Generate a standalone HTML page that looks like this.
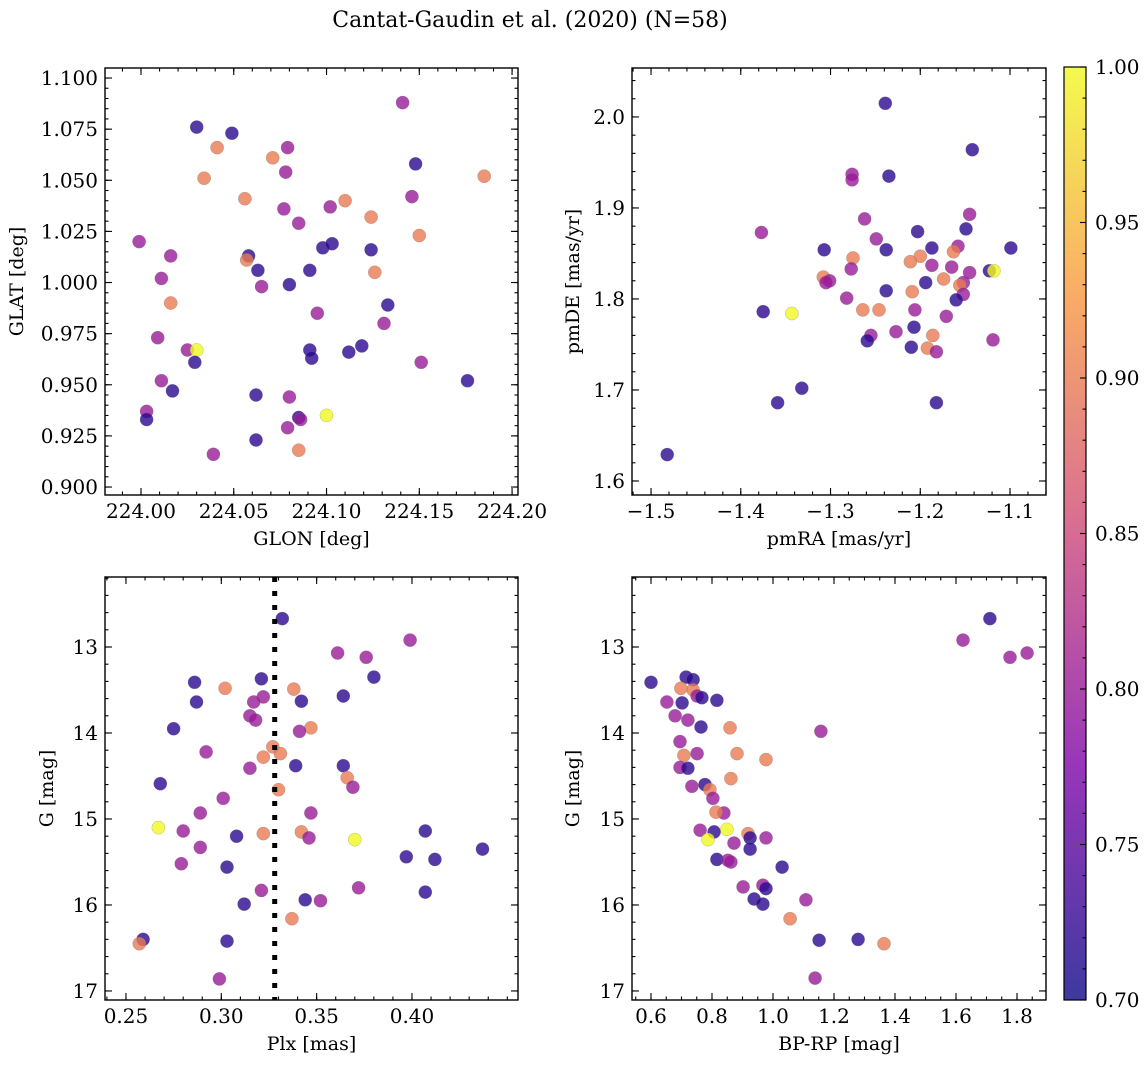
<!DOCTYPE html>
<html><head><meta charset="utf-8"><style>
body{margin:0;background:#fff;}
svg{display:block;font-family:"DejaVu Serif","Liberation Serif",serif;}
</style></head><body>
<svg id="fig" width="1148" height="1067" viewBox="0 0 1148 1067">
<text x="530" y="27" font-size="22" text-anchor="middle">Cantat-Gaudin et al. (2020) (N=58)</text>
</svg>
<script>
// ---- Panel 1: GLON vs GLAT ----
const p1_glon=[224.030,224.049,224.041,224.071,224.079,224.141,224.185,224.034,224.078,224.148,224.056,224.077,224.110,224.102,224.146,224.085,224.124,223.999,224.016,224.058,224.098,224.103,224.124,224.150,224.057,224.063,224.011,224.126,224.016,224.065,224.080,224.091,224.133,224.095,224.009,224.131,224.119,224.112,224.025,224.030,224.029,224.091,224.092,224.151,224.011,224.017,224.176,224.062,224.080,224.003,224.003,224.085,224.086,224.100,224.079,224.062,224.085,224.039];
const p1_glat=[1.076,1.073,1.066,1.061,1.066,1.088,1.052,1.051,1.054,1.058,1.041,1.036,1.040,1.037,1.042,1.029,1.032,1.020,1.013,1.013,1.017,1.019,1.016,1.023,1.011,1.006,1.002,1.005,0.990,0.998,0.999,1.006,0.989,0.985,0.973,0.980,0.969,0.966,0.967,0.967,0.961,0.967,0.963,0.961,0.952,0.947,0.952,0.945,0.944,0.937,0.933,0.934,0.933,0.935,0.929,0.923,0.918,0.916];
const p1_prob=[0.72,0.72,0.9,0.9,0.8,0.8,0.9,0.9,0.8,0.72,0.9,0.8,0.9,0.8,0.8,0.8,0.9,0.8,0.8,0.72,0.72,0.72,0.72,0.9,0.9,0.72,0.8,0.9,0.9,0.8,0.72,0.72,0.72,0.8,0.8,0.8,0.72,0.72,0.8,1.0,0.72,0.72,0.72,0.8,0.8,0.72,0.72,0.72,0.8,0.8,0.72,0.72,0.8,1.0,0.8,0.72,0.9,0.8];
// ---- Panel 2: pmRA vs pmDE ----
const p2_pmra=[-1.239,-1.142,-1.276,-1.276,-1.235,-1.145,-1.262,-1.377,-1.203,-1.249,-1.149,-1.307,-1.238,-1.187,-1.158,-1.099,-1.200,-1.275,-1.211,-1.163,-1.187,-1.277,-1.165,-1.145,-1.123,-1.118,-1.308,-1.301,-1.305,-1.174,-1.194,-1.152,-1.156,-1.238,-1.282,-1.152,-1.209,-1.160,-1.246,-1.264,-1.206,-1.171,-1.375,-1.343,-1.207,-1.186,-1.227,-1.255,-1.119,-1.259,-1.210,-1.192,-1.182,-1.332,-1.359,-1.182,-1.482];
const p2_pmde=[2.015,1.964,1.937,1.931,1.935,1.893,1.888,1.873,1.874,1.866,1.877,1.854,1.854,1.856,1.858,1.856,1.847,1.845,1.841,1.852,1.837,1.833,1.835,1.829,1.831,1.831,1.824,1.820,1.818,1.822,1.818,1.818,1.815,1.809,1.801,1.805,1.808,1.799,1.788,1.788,1.788,1.781,1.786,1.784,1.769,1.760,1.764,1.760,1.755,1.754,1.747,1.746,1.742,1.702,1.686,1.686,1.629];
const p2_prob=[0.72,0.72,0.8,0.8,0.72,0.8,0.8,0.8,0.72,0.8,0.72,0.72,0.72,0.72,0.8,0.72,0.9,0.9,0.9,0.9,0.8,0.8,0.8,0.8,0.72,1.0,0.9,0.8,0.8,0.9,0.72,0.8,0.9,0.72,0.8,0.8,0.9,0.72,0.9,0.9,0.8,0.8,0.72,1.0,0.72,0.9,0.8,0.8,0.8,0.72,0.72,0.9,0.8,0.72,0.72,0.72,0.72];
// ---- Panel 3: Plx vs G ----
const p3_plx=[0.332,0.399,0.361,0.376,0.286,0.380,0.302,0.321,0.338,0.364,0.322,0.287,0.317,0.342,0.315,0.318,0.275,0.347,0.341,0.292,0.327,0.331,0.322,0.339,0.315,0.364,0.366,0.369,0.268,0.330,0.301,0.289,0.347,0.407,0.267,0.280,0.342,0.322,0.308,0.346,0.370,0.289,0.437,0.397,0.412,0.279,0.303,0.372,0.321,0.407,0.344,0.352,0.312,0.337,0.303,0.259,0.257,0.299];
const p3_g=[12.67,12.92,13.07,13.12,13.41,13.35,13.48,13.37,13.49,13.57,13.58,13.64,13.64,13.63,13.80,13.85,13.95,13.94,13.98,14.22,14.16,14.24,14.28,14.38,14.41,14.38,14.52,14.63,14.59,14.66,14.76,14.93,14.93,15.14,15.10,15.14,15.15,15.17,15.20,15.22,15.24,15.33,15.35,15.44,15.47,15.52,15.56,15.80,15.83,15.85,15.94,15.95,15.99,16.16,16.42,16.40,16.45,16.86];
const p3_prob=[0.72,0.8,0.8,0.8,0.72,0.72,0.9,0.72,0.9,0.72,0.8,0.72,0.8,0.72,0.8,0.8,0.72,0.9,0.8,0.8,0.9,0.9,0.9,0.72,0.8,0.72,0.9,0.8,0.72,0.9,0.8,0.8,0.8,0.72,1.0,0.8,0.9,0.9,0.72,0.8,1.0,0.8,0.72,0.72,0.72,0.8,0.72,0.8,0.8,0.72,0.72,0.8,0.72,0.9,0.72,0.72,0.9,0.8];
// ---- Panel 4: BP-RP vs G ----
const p4_bprp=[1.711,1.623,1.777,1.833,0.600,0.715,0.738,0.816,0.738,0.698,0.652,0.702,0.751,0.767,0.679,0.721,0.764,0.859,1.157,0.695,0.708,0.751,0.882,0.977,0.695,0.721,0.862,0.734,0.777,0.793,0.803,0.839,0.813,0.761,0.807,0.849,0.918,0.925,0.977,0.787,0.872,0.925,0.816,0.862,1.030,0.852,0.902,0.967,0.977,1.108,0.938,0.967,1.056,1.151,1.279,1.364,1.138];
const p4_g=[12.67,12.92,13.12,13.07,13.41,13.35,13.38,13.62,13.50,13.48,13.64,13.65,13.57,13.59,13.80,13.85,13.93,13.94,13.98,14.10,14.26,14.24,14.24,14.31,14.40,14.41,14.53,14.62,14.60,14.66,14.76,14.93,14.92,15.13,15.15,15.12,15.17,15.22,15.22,15.24,15.28,15.35,15.47,15.50,15.56,15.48,15.79,15.77,15.81,15.94,15.93,15.99,16.16,16.41,16.40,16.45,16.85];
const p4_prob=[0.72,0.8,0.8,0.8,0.72,0.72,0.72,0.72,0.9,0.9,0.8,0.72,0.8,0.72,0.8,0.8,0.72,0.9,0.8,0.8,0.9,0.8,0.9,0.9,0.8,0.72,0.9,0.8,0.72,0.9,0.8,0.8,0.9,0.8,0.72,1.0,0.9,0.72,0.8,1.0,0.8,0.72,0.72,0.8,0.72,0.8,0.8,0.8,0.72,0.8,0.72,0.72,0.9,0.72,0.72,0.9,0.8];
const plxCut=0.328;
const cbTicks=[0.70,0.75,0.80,0.85,0.90,0.95,1.00];

const NS='http://www.w3.org/2000/svg';
const fig=document.getElementById('fig');
function mk(tag,attrs,parent){const e=document.createElementNS(NS,tag);for(const k in attrs)e.setAttribute(k,attrs[k]);(parent||fig).appendChild(e);return e;}
const stops=[[13,8,135],[126,3,168],[204,71,120],[248,149,64],[240,249,33]];
function plasma(v){let t=(v-0.7)/0.3;t=Math.max(0,Math.min(1,t));const s=t*4,i=Math.min(3,Math.floor(s)),f=s-i;const a=stops[i],b=stops[i+1];return 'rgb('+a.map((c,k)=>Math.round(c+(b[k]-c)*f)).join(',')+')';}
function lin(d0,d1,r0,r1){return v=>r0+(v-d0)/(d1-d0)*(r1-r0);}
const TF=20, LF=19;

function panel(name,box,xd,yd,xt,xminor,xfmt,yt,yminor,yfmt,xlabel,ylabel,xs,ys,ps){
  const [L,T,R,B]=box;
  const g=mk('g',{});  
  const X=lin(xd[0],xd[1],L,R), Y=lin(yd[0],yd[1],B,T);
  const clip=mk('clipPath',{id:name+'-clip'},g); mk('rect',{x:L,y:T,width:R-L,height:B-T},clip);
  const pts=mk('g',{'clip-path':'url(#'+name+'-clip)'},g);
   
  for(let i=0;i<xs.length;i++){
    const c=mk('circle',{cx:X(xs[i]).toFixed(1),cy:Y(ys[i]).toFixed(1),r:6.6,fill:plasma(ps[i]),'fill-opacity':0.8,stroke:'#777','stroke-width':0.4,'stroke-opacity':0.6},pts);
     
  }
  const ticks=mk('g',{stroke:'#000','stroke-width':1.1},g);
   
  const eps=1e-9;
  function rng(a,b,st){const o=[];const s=Math.ceil(Math.min(a,b)/st-eps);for(let k=s;k*st<=Math.max(a,b)+eps;k++)o.push(k*st);return o;}
  rng(xd[0],xd[1],xminor).forEach(v=>{const x=X(v);mk('line',{x1:x,x2:x,y1:B,y2:B-3.5},ticks);mk('line',{x1:x,x2:x,y1:T,y2:T+3.5},ticks);});
  rng(yd[0],yd[1],yminor).forEach(v=>{const y=Y(v);mk('line',{x1:L,x2:L+3.5,y1:y,y2:y},ticks);mk('line',{x1:R,x2:R-3.5,y1:y,y2:y},ticks);});
  xt.forEach(v=>{const x=X(v);mk('line',{x1:x,x2:x,y1:B,y2:B-7},ticks);mk('line',{x1:x,x2:x,y1:T,y2:T+7},ticks);
    const t=mk('text',{x:x,y:B+23,'font-size':TF,'text-anchor':'middle'},g);t.textContent=xfmt(v);});
  yt.forEach(v=>{const y=Y(v);mk('line',{x1:L,x2:L+7,y1:y,y2:y},ticks);mk('line',{x1:R,x2:R-7,y1:y,y2:y},ticks);
    const t=mk('text',{x:L-7,y:y+7,'font-size':TF,'text-anchor':'end'},g);t.textContent=yfmt(v);});
  const fr=mk('rect',{x:L,y:T,width:R-L,height:B-T,fill:'none',stroke:'#000','stroke-width':1.4},g);
   
  const xl=mk('text',{x:(L+R)/2,y:B+50,'font-size':LF,'text-anchor':'middle'},g);xl.textContent=xlabel;
   
  const yx=ylabel.x;
  const yl=mk('text',{x:yx,y:(T+B)/2,'font-size':LF,'text-anchor':'middle',transform:'rotate(-90 '+yx+' '+(T+B)/2+')'},g);yl.textContent=ylabel.t;
   
  return {X,Y,g};
}
const f2=v=>v.toFixed(2), f3=v=>v.toFixed(3), f1=v=>v.toFixed(1), f0=v=>v.toFixed(0);
panel('glon-glat-panel',[105,68,518,495],[223.9806,224.2032],[0.8961,1.1049],[224,224.05,224.1,224.15,224.2],0.01,f2,[0.9,0.925,0.95,0.975,1.0,1.025,1.05,1.075,1.1],0.005,f3,'GLON [deg]',{x:23,t:'GLAT [deg]'},p1_glon,p1_glat,p1_prob);
panel('pm-panel',[632,68,1046,495],[-1.5212,-1.0599],[1.5846,2.0538],[-1.5,-1.4,-1.3,-1.2,-1.1],0.02,v=>v.toFixed(1).replace('-','\u2212'),[1.6,1.7,1.8,1.9,2.0],0.02,f1,'pmRA [mas/yr]',{x:579,t:'pmDE [mas/yr]'},p2_pmra,p2_pmde,p2_prob);
const P3=panel('plx-g-panel',[105,577,518,1000],[0.239,0.4556],[17.105,12.186],[0.25,0.3,0.35,0.4],0.01,f2,[13,14,15,16,17],0.2,f0,'Plx [mas]',{x:53,t:'G [mag]'},p3_plx,p3_g,p3_prob);
const cut=mk('line',{x1:P3.X(plxCut),x2:P3.X(plxCut),y1:577,y2:1000,stroke:'#000','stroke-width':5,'stroke-dasharray':'5 9'},P3.g);
 
panel('cmd-panel',[632,577,1046,1000],[0.5377,1.8951],[17.105,12.186],[0.6,0.8,1.0,1.2,1.4,1.6,1.8],0.05,f1,[13,14,15,16,17],0.2,f0,'BP-RP [mag]',{x:579,t:'G [mag]'},p4_bprp,p4_g,p4_prob);

// colorbar
const cb=mk('g',{});  
const defs=mk('defs',{},cb);
const lg=mk('linearGradient',{id:'cbg',x1:0,y1:1,x2:0,y2:0},defs);
for(let i=0;i<=20;i++){mk('stop',{offset:i/20,'stop-color':plasma(0.7+0.3*i/20),'stop-opacity':0.8},lg);}
const CB=[1064,67,1086,1000]; const CY=lin(0.7,1.0,CB[3],CB[1]);
mk('rect',{x:CB[0],y:CB[1],width:CB[2]-CB[0],height:CB[3]-CB[1],fill:'url(#cbg)',stroke:'#000','stroke-width':1.2},cb);
for(let k=70;k<=100;k++){const y=CY(k/100);const major=k%5===0;mk('line',{x1:CB[2],x2:CB[2]-(major?6:3.5),y1:y,y2:y,stroke:'#000','stroke-width':1.1},cb);}
cbTicks.forEach(v=>{const t=mk('text',{x:CB[2]+9,y:CY(v)+7,'font-size':TF},cb);t.textContent=v.toFixed(2);});
</script>
</body></html>
